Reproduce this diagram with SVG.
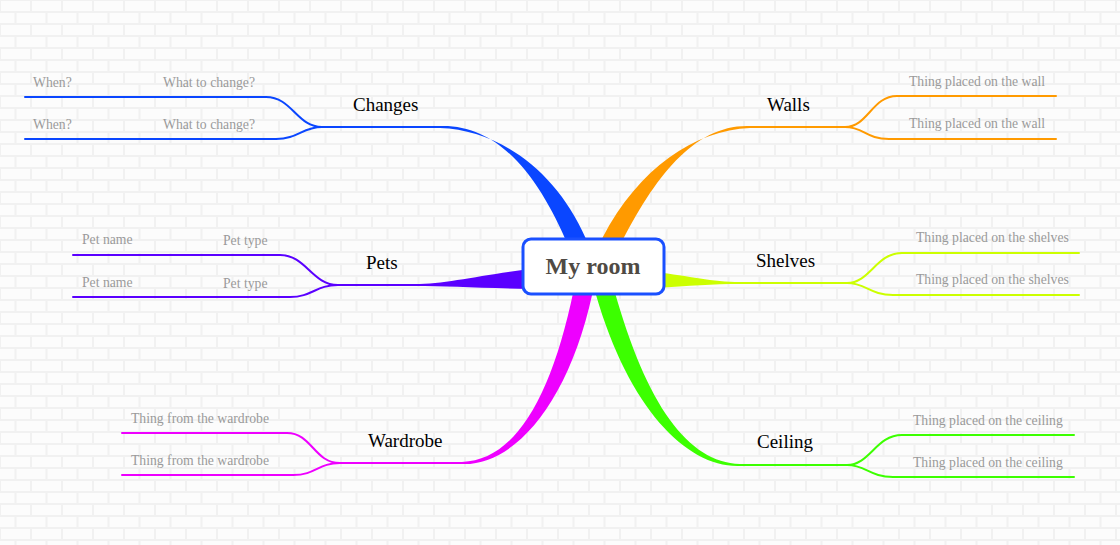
<svg xmlns="http://www.w3.org/2000/svg" width="1120" height="545" viewBox="0 0 1120 545">
<defs>
<pattern id="brick" width="31" height="24" patternUnits="userSpaceOnUse">
<rect width="31" height="24" fill="#f1f1f1"/>
<rect x="1" y="1" width="29" height="10" fill="#fcfcfc"/>
<rect x="-14.5" y="13" width="29" height="10" fill="#fcfcfc"/>
<rect x="16.5" y="13" width="29" height="10" fill="#fcfcfc"/>
</pattern>
<style>
.main{font-family:"Liberation Serif",serif;font-size:19px;fill:#000}
.sub{font-family:"Liberation Serif",serif;font-size:13.7px;fill:#9a9a9a}
.ln{fill:none;stroke-width:2;stroke-linecap:round}
.blue{stroke:#0a46ff}.blueF{fill:#0a46ff}
.orange{stroke:#ff9a00}.orangeF{fill:#ff9a00}
.lime{stroke:#ccff00}.limeF{fill:#ccff00}
.purple{stroke:#5a00ff}.purpleF{fill:#5a00ff}
.mag{stroke:#ee00ff}.magF{fill:#ee00ff}
.green{stroke:#3cff00}.greenF{fill:#3cff00}
</style>
</defs>
<rect width="1120" height="545" fill="url(#brick)"/>
<g id="connectors">
<!-- Changes -->
<path class="blueF" d="M440,126 C500,124 539.7,178.6 568.3,245.8 L572,255 L592,255 L585.7,238.2 C556.3,171.4 500,130 440,128 Z"/>
<path class="ln blue" d="M440,127 L322,127 C297,127 292,97 266,97 L25,97"/>
<path class="ln blue" d="M322,127 C302,127 298,139 276,139 L25,139"/>
<!-- Walls -->
<path class="orangeF" d="M750,126 C695,124 655,176.1 619.5,246.3 L618,255 L600,255 L602.5,237.7 C639,167.9 695,130 750,128 Z"/>
<path class="ln orange" d="M750,127 L845,127 C868,127 872,96 897,96 L1056,96"/>
<path class="ln orange" d="M845,127 C864,127 866,139 889,139 L1056,139"/>
<!-- Shelves -->
<path class="limeF" d="M655,272 C690,276 712,282 740,282 L740,284 C712,284 690,286 655,288 Z"/>
<path class="ln lime" d="M740,283 L847,283 C870,283 876,253 902,253 L1079,253"/>
<path class="ln lime" d="M847,283 C866,283 870,295 893,295 L1079,295"/>
<!-- Pets -->
<path class="purpleF" d="M530,269 C480,275 445,284 415,284 L415,286 C445,286 480,288 530,289 Z"/>
<path class="ln purple" d="M416,285 L338,285 C312,285 306,255 280,255 L73,255"/>
<path class="ln purple" d="M338,285 C316,285 312,297 290,297 L73,297"/>
<!-- Wardrobe -->
<path class="magF" d="M462,464 C515,466 568.8,401.9 592.3,294 L590,280 L572,280 L573.7,290 C551.2,398.1 515,460 462,462 Z"/>
<path class="ln mag" d="M462,463 L340,463 C314,463 312,433 287,433 L122,433"/>
<path class="ln mag" d="M340,463 C318,463 316,475 293,475 L122,475"/>
<!-- Ceiling -->
<path class="greenF" d="M740,466 C688,468 629.4,410.4 595.9,294.6 L598,280 L618,280 L614.1,289.4 C646.6,405.6 688,462 740,464 Z"/>
<path class="ln green" d="M740,465 L847,465 C870,465 876,435 902,435 L1074,435"/>
<path class="ln green" d="M847,465 C866,465 870,477 893,477 L1074,477"/>
</g>
<g id="root">
<rect x="523" y="239" width="141" height="55" rx="8" fill="#fff" stroke="#1a50ff" stroke-width="3"/>
<text x="593" y="274" text-anchor="middle" font-family="Liberation Serif,serif" font-size="24" font-weight="bold" fill="#4f4a44">My room</text>
</g>
<g id="changes">
<text class="main" x="353" y="111">Changes</text>
<text class="sub" x="163" y="87">What to change?</text>
<text class="sub" x="33" y="87">When?</text>
<text class="sub" x="163" y="129">What to change?</text>
<text class="sub" x="33" y="129">When?</text>
</g>
<g id="walls">
<text class="main" x="767" y="111">Walls</text>
<text class="sub" x="909" y="86">Thing placed on the wall</text>
<text class="sub" x="909" y="128">Thing placed on the wall</text>
</g>
<g id="shelves">
<text class="main" x="756" y="267">Shelves</text>
<text class="sub" x="916" y="242">Thing placed on the shelves</text>
<text class="sub" x="916" y="284">Thing placed on the shelves</text>
</g>
<g id="pets">
<text class="main" x="366" y="269">Pets</text>
<text class="sub" x="223" y="245">Pet type</text>
<text class="sub" x="82" y="244">Pet name</text>
<text class="sub" x="223" y="288">Pet type</text>
<text class="sub" x="82" y="287">Pet name</text>
</g>
<g id="wardrobe">
<text class="main" x="368" y="447">Wardrobe</text>
<text class="sub" x="131" y="423">Thing from the wardrobe</text>
<text class="sub" x="131" y="465">Thing from the wardrobe</text>
</g>
<g id="ceiling">
<text class="main" x="757" y="448">Ceiling</text>
<text class="sub" x="913" y="425">Thing placed on the ceiling</text>
<text class="sub" x="913" y="467">Thing placed on the ceiling</text>
</g>
</svg>
